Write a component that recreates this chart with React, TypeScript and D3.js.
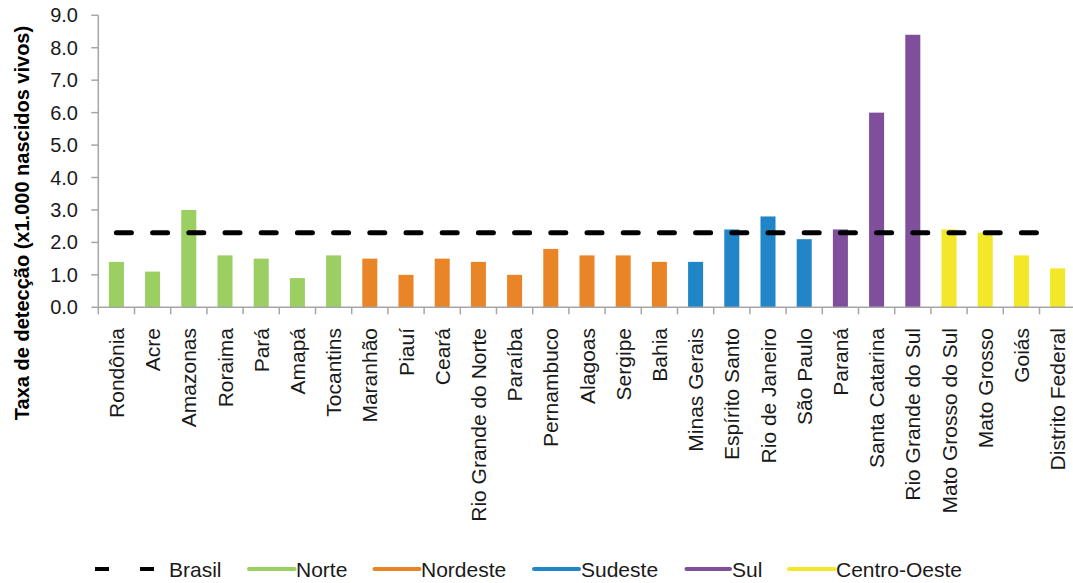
import React from "react";
import * as d3 from "d3";

// Taxa de detecção por UF, agrupada por região
const states = [
  "Rondônia", "Acre", "Amazonas", "Roraima", "Pará", "Amapá", "Tocantins",
  "Maranhão", "Piauí", "Ceará", "Rio Grande do Norte", "Paraíba", "Pernambuco",
  "Alagoas", "Sergipe", "Bahia",
  "Minas Gerais", "Espírito Santo", "Rio de Janeiro", "São Paulo",
  "Paraná", "Santa Catarina", "Rio Grande do Sul",
  "Mato Grosso do Sul", "Mato Grosso", "Goiás", "Distrito Federal",
];
const rates = [
  1.4, 1.1, 3.0, 1.6, 1.5, 0.9, 1.6,
  1.5, 1.0, 1.5, 1.4, 1.0, 1.8, 1.6, 1.6, 1.4,
  1.4, 2.4, 2.8, 2.1,
  2.4, 6.0, 8.4,
  2.4, 2.3, 1.6, 1.2,
];
const stateRegion = [
  "Norte", "Norte", "Norte", "Norte", "Norte", "Norte", "Norte",
  "Nordeste", "Nordeste", "Nordeste", "Nordeste", "Nordeste", "Nordeste",
  "Nordeste", "Nordeste", "Nordeste",
  "Sudeste", "Sudeste", "Sudeste", "Sudeste",
  "Sul", "Sul", "Sul",
  "Centro-Oeste", "Centro-Oeste", "Centro-Oeste", "Centro-Oeste",
];
const regions = ["Norte", "Nordeste", "Sudeste", "Sul", "Centro-Oeste"];
const regionColors = ["#9BCF62", "#EA8527", "#2186C7", "#7F4F9C", "#F2E728"];
const brasilRate = 2.3;
const yTicks = [0, 1, 2, 3, 4, 5, 6, 7, 8, 9];

const W = 1073;
const H = 583;
const left = 98.3;
const step = 36.2;
const baseY = 307.3;
const topY = 15.3;
const FONT = "'Liberation Sans', Arial, Helvetica, sans-serif";
const AXIS = "#A6A6A6";

export default function App() {
  const x = d3
    .scaleBand<string>()
    .domain(states)
    .range([left, left + step * states.length])
    .paddingInner(0.585)
    .paddingOuter(0.2925);
  const y = d3.scaleLinear().domain([0, 9]).range([baseY, topY]);
  const color = d3.scaleOrdinal<string, string>().domain(regions).range(regionColors);

  const center = (s: string) => (x(s) as number) + x.bandwidth() / 2;
  const boundaries = d3.range(states.length + 1).map((i) => left + i * x.step());

  const brasilLine = d3.line<number>()
    .x((d) => d)
    .y(() => y(brasilRate))([center(states[0]), center(states[states.length - 1])]);

  // legend layout: [swatch start, swatch end, label x]
  const legendY = 569;
  const legendItems = [
    { x0: 249, x1: 294.5, tx: 296 },
    { x0: 374.5, x1: 419.5, tx: 421 },
    { x0: 534, x1: 579, tx: 581 },
    { x0: 686.5, x1: 730, tx: 732 },
    { x0: 789, x1: 834.5, tx: 836 },
  ];

  return (
    <svg
      width={W}
      height={H}
      style={{ position: "absolute", left: 0, top: 0, background: "#fff" }}
      fontFamily={FONT}
    >
      {/* y axis */}
      <line x1={left} x2={left} y1={topY} y2={baseY} stroke={AXIS} strokeWidth={1.5} />
      {yTicks.map((t) => (
        <g key={t}>
          <line x1={left - 7} x2={left} y1={y(t)} y2={y(t)} stroke={AXIS} strokeWidth={1.5} />
          <text x={78} y={y(t)} dy="0.35em" textAnchor="end" fontSize={20} fill="#1a1a1a">
            {t.toFixed(1)}
          </text>
        </g>
      ))}
      <text
        transform={`translate(29, 223) rotate(-90)`}
        textAnchor="middle"
        fontSize={20}
        fontWeight="bold"
        fill="#000"
      >
        Taxa de detecção (x1.000 nascidos vivos)
      </text>

      {/* bars */}
      {states.map((s, i) => (
        <rect
          key={s}
          x={x(s)}
          y={y(rates[i])}
          width={x.bandwidth()}
          height={baseY - y(rates[i])}
          fill={color(stateRegion[i])}
        />
      ))}

      {/* x axis */}
      <line x1={left} x2={boundaries[boundaries.length - 1]} y1={baseY} y2={baseY} stroke={AXIS} strokeWidth={1.5} />
      {boundaries.map((b, i) => (
        <line key={i} x1={b} x2={b} y1={baseY} y2={baseY + 7} stroke={AXIS} strokeWidth={1.5} />
      ))}
      {states.map((s) => (
        <text
          key={s}
          transform={`translate(${center(s)}, 328) rotate(-90)`}
          dy="0.36em"
          textAnchor="end"
          fontSize={21}
          fill="#1a1a1a"
        >
          {s}
        </text>
      ))}

      {/* national reference */}
      <path
        d={brasilLine as string}
        stroke="#000"
        strokeWidth={5}
        strokeLinecap="round"
        strokeDasharray={`15 ${step - 15}`}
        fill="none"
      />

      {/* legend */}
      <g>
        <line x1={95} x2={109} y1={legendY} y2={legendY} stroke="#000" strokeWidth={4} />
        <line x1={140} x2={154} y1={legendY} y2={legendY} stroke="#000" strokeWidth={4} />
        <text x={169} y={576.5} fontSize={21} fill="#1a1a1a">Brasil</text>
        {regions.map((r, i) => (
          <g key={r}>
            <line
              x1={legendItems[i].x0}
              x2={legendItems[i].x1}
              y1={legendY}
              y2={legendY}
              stroke={color(r)}
              strokeWidth={4}
              strokeLinecap="round"
            />
            <text x={legendItems[i].tx} y={576.5} fontSize={21} fill="#1a1a1a">{r}</text>
          </g>
        ))}
      </g>
    </svg>
  );
}
